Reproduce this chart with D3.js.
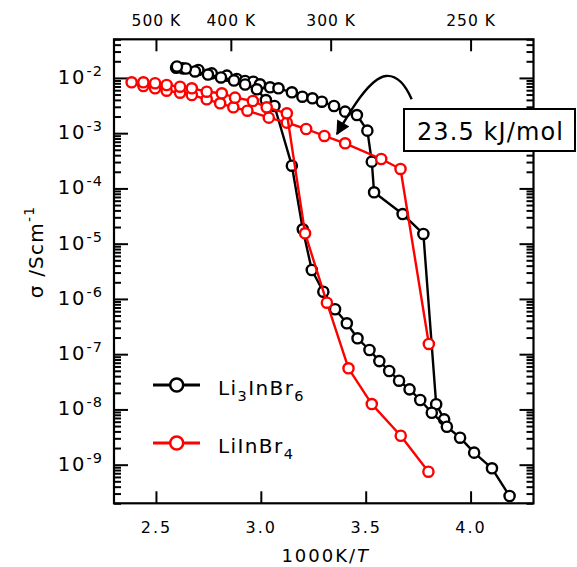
<!DOCTYPE html>
<html>
<head>
<meta charset="utf-8">
<script src="https://cdn.jsdelivr.net/npm/d3@7"></script>
<style>
  body { margin: 0; background: #fff; }
  svg { display: block; }
  text { font-family: "DejaVu Sans", Verdana, sans-serif; fill: #000; }
</style>
</head>
<body>
<svg id="chart" width="577" height="567"></svg>
<script>
// Conductivity vs inverse temperature (1000K/T) for two bromide conductors.
// Li3InBr6, cooling run
const li3CoolX = [2.596, 2.628, 2.702, 2.766, 2.838, 2.885, 2.925, 2.964, 2.996, 3.044, 3.084, 3.148, 3.198,
  3.246, 3.291, 3.349, 3.402, 3.458, 3.508, 3.529, 3.540, 3.676, 3.775, 3.836, 3.874];
const li3CoolSigma = [1.53e-2, 1.49e-2, 1.39e-2, 1.21e-2, 1.10e-2, 9.55e-3, 8.8e-3, 8.55e-3, 7.66e-3, 6.76e-3,
  6.49e-3, 5.49e-3, 4.57e-3, 4.28e-3, 3.71e-3, 3.10e-3, 2.45e-3, 2.13e-3, 1.11e-3, 3.05e-4, 8.5e-5, 3.44e-5,
  1.50e-5, 1.24e-8, 6.6e-9];
// Li3InBr6, heating run
const li3HeatX = [4.186, 4.102, 4.017, 3.950, 3.887, 3.815, 3.760, 3.709, 3.659, 3.612, 3.565, 3.518, 3.461,
  3.410, 3.354, 3.298, 3.243, 3.200, 3.148, 3.065, 3.024, 2.981, 2.925, 2.872, 2.810, 2.748, 2.686, 2.643, 2.600];
const li3HeatSigma = [2.71e-10, 8.6e-10, 1.65e-9, 3.08e-9, 4.86e-9, 8.7e-9, 1.48e-8, 2.31e-8, 3.31e-8, 4.96e-8,
  7.5e-8, 1.19e-7, 1.94e-7, 3.62e-7, 6.5e-7, 1.35e-6, 3.34e-6, 1.82e-5, 2.58e-4, 3.10e-3, 3.98e-3, 6.22e-3,
  7.6e-3, 8.98e-3, 1.02e-2, 1.15e-2, 1.31e-2, 1.48e-2, 1.61e-2];
// LiInBr4, cooling run
const liCoolX = [2.384, 2.440, 2.496, 2.551, 2.615, 2.671, 2.742, 2.806, 2.869, 2.936, 3.038, 3.124, 3.216,
  3.303, 3.402, 3.574, 3.666, 3.801];
const liCoolSigma = [8.33e-3, 7.14e-3, 6.49e-3, 5.87e-3, 5.40e-3, 4.91e-3, 4.10e-3, 3.47e-3, 2.94e-3, 2.55e-3,
  1.91e-3, 1.55e-3, 1.19e-3, 8.9e-4, 6.56e-4, 3.41e-4, 2.25e-4, 1.53e-7];
// LiInBr4, heating run
const liHeatX = [3.799, 3.667, 3.529, 3.418, 3.315, 3.211, 3.124, 3.028, 2.962, 2.877, 2.814, 2.742, 2.671,
  2.615, 2.551, 2.496, 2.440];
const liHeatSigma = [7.46e-10, 3.34e-9, 1.25e-8, 5.55e-8, 8.55e-7, 1.54e-5, 2.29e-3, 2.94e-3, 3.82e-3, 4.39e-3,
  5.27e-3, 5.63e-3, 6.49e-3, 6.93e-3, 7.45e-3, 8.0e-3, 8.33e-3];

const seriesNames = ["Li3InBr6", "LiInBr4"];
const seriesColors = ["#000000", "#ff0000"];

// Axis ticks
const xTicks = [2.5, 3.0, 3.5, 4.0];
const topTickValues = [2.5, 2.857, 3.333, 4.0];
const topTickLabels = ["500 K", "400 K", "300 K", "250 K"];
const yMajorExponents = [-9, -8, -7, -6, -5, -4, -3, -2];
const activationLabel = "23.5 kJ/mol";

const plot = { left: 114, right: 533.5, top: 39.3, bottom: 503.3 };

const svg = d3.select("#chart");

const xs = d3.scaleLinear().domain([2.3, 4.3]).range([plot.left, plot.right]);
const ys = d3.scaleLog().domain([2e-10, 5e-2]).range([plot.bottom, plot.top]);

// Log ticks: decades and the 2..9 multiples inside the domain
const yMajor = yMajorExponents.map(e => Math.pow(10, e));
const yMinor = [];
for (let e = -10; e <= -2; e++) {
  for (let m = 2; m <= 9; m++) {
    const v = m * Math.pow(10, e);
    if (v >= 2e-10 && v <= 5e-2) yMinor.push(v);
  }
}

const axes = svg.append("g");

function styleAxis(g) {
  g.select(".domain").remove();
  g.selectAll(".tick line").attr("stroke", "#000").attr("stroke-width", 2);
}

// bottom
axes.append("g")
  .attr("transform", `translate(0,${plot.bottom})`)
  .call(d3.axisBottom(xs).tickValues(xTicks).tickSizeInner(-12).tickSizeOuter(0)
    .tickPadding(18).tickFormat(d3.format(".1f")))
  .call(styleAxis)
  .call(g => g.selectAll("text").attr("font-size", 16).style("letter-spacing", "2px")
    .attr("font-family", "DejaVu Sans").attr("fill", "#000"));

// top
axes.append("g")
  .attr("transform", `translate(0,${plot.top})`)
  .call(d3.axisTop(xs).tickValues(topTickValues).tickSizeInner(-12).tickSizeOuter(0)
    .tickPadding(13).tickFormat((d, i) => topTickLabels[i]))
  .call(styleAxis)
  .call(g => g.selectAll("text").attr("font-size", 15.5).style("letter-spacing", "1px")
    .attr("font-family", "DejaVu Sans").attr("fill", "#000"));

// left & right, major + minor
[[yMajor, 14], [yMinor, 7]].forEach(([vals, len]) => {
  axes.append("g")
    .attr("transform", `translate(${plot.left},0)`)
    .call(d3.axisLeft(ys).tickValues(vals).tickSizeInner(-len).tickSizeOuter(0).tickFormat(""))
    .call(styleAxis);
  axes.append("g")
    .attr("transform", `translate(${plot.right},0)`)
    .call(d3.axisRight(ys).tickValues(vals).tickSizeInner(-len).tickSizeOuter(0).tickFormat(""))
    .call(styleAxis);
});

// y tick labels as 10^n
const yLab = axes.append("g");
yMajorExponents.forEach(e => {
  const t = yLab.append("text")
    .attr("x", 103)
    .attr("y", ys(Math.pow(10, e)) + 6)
    .attr("text-anchor", "end")
    .attr("font-size", 19.5)
    .style("letter-spacing", "2px");
  t.append("tspan").text("10");
  t.append("tspan").attr("dy", -8).attr("font-size", 14.5).style("letter-spacing", "1px").text(String(e));
});

// frame
svg.append("rect")
  .attr("x", plot.left).attr("y", plot.top)
  .attr("width", plot.right - plot.left).attr("height", plot.bottom - plot.top)
  .attr("fill", "none").attr("stroke", "#000").attr("stroke-width", 2.2);

// axis titles
const xt = svg.append("text")
  .attr("x", (plot.left + plot.right) / 2 + 2)
  .attr("y", 561.5)
  .attr("text-anchor", "middle")
  .attr("font-size", 18)
  .style("letter-spacing", "2px");
xt.append("tspan").text("1000K/");
xt.append("tspan").attr("font-style", "italic").text("T");

const yt = svg.append("text")
  .attr("transform", "translate(43,252) rotate(-90)")
  .attr("text-anchor", "middle")
  .attr("font-size", 20)
  .style("letter-spacing", "1.2px");
yt.append("tspan").text("σ /Scm");
yt.append("tspan").attr("dy", -9).attr("font-size", 14).text("-1");

// data series
const line = d3.line().x(d => xs(d[0])).y(d => ys(d[1]));
const runs = [
  { xs: li3CoolX, ys: li3CoolSigma, color: seriesColors[0] },
  { xs: li3HeatX, ys: li3HeatSigma, color: seriesColors[0] },
  { xs: liCoolX, ys: liCoolSigma, color: seriesColors[1] },
  { xs: liHeatX, ys: liHeatSigma, color: seriesColors[1] }
];
runs.forEach(r => {
  const pts = r.xs.map((x, i) => [x, r.ys[i]]);
  const g = svg.append("g");
  g.append("path").datum(pts).attr("d", line)
    .attr("fill", "none").attr("stroke", r.color).attr("stroke-width", 2.4)
    .attr("stroke-linejoin", "round");
  g.selectAll("circle").data(pts).join("circle")
    .attr("cx", d => xs(d[0])).attr("cy", d => ys(d[1])).attr("r", 5.1)
    .attr("fill", "#fff").attr("stroke", r.color).attr("stroke-width", 2.4);
});

// activation-energy annotation
const defs = svg.append("defs");
defs.append("marker")
  .attr("id", "arrowHead").attr("viewBox", "0 0 10 10")
  .attr("refX", 9).attr("refY", 5)
  .attr("markerWidth", 17).attr("markerHeight", 14)
  .attr("markerUnits", "userSpaceOnUse").attr("orient", "auto")
  .append("path").attr("d", "M0,0 L10,5 L0,10 z").attr("fill", "#000");

svg.append("path")
  .attr("d", "M411.7,99.3 C405,84 396,75 386,76 C370,78 352,108 337,134")
  .attr("fill", "none").attr("stroke", "#000").attr("stroke-width", 2.4)
  .attr("marker-end", "url(#arrowHead)");

svg.append("rect")
  .attr("x", 404).attr("y", 109).attr("width", 171).attr("height", 42)
  .attr("fill", "#fff").attr("stroke", "#000").attr("stroke-width", 2);
svg.append("text")
  .attr("x", 417).attr("y", 140)
  .attr("font-size", 24)
  .style("letter-spacing", "1.1px")
  .text(activationLabel);

// legend
const legend = svg.append("g");
const legendRows = [
  { y: 385, color: seriesColors[0], parts: [["Li", 0], ["3", 1], ["InBr", 0], ["6", 1]] },
  { y: 443, color: seriesColors[1], parts: [["LiInBr", 0], ["4", 1]] }
];
legendRows.forEach(row => {
  legend.append("line").attr("x1", 153).attr("x2", 200).attr("y1", row.y).attr("y2", row.y)
    .attr("stroke", row.color).attr("stroke-width", 3);
  legend.append("circle").attr("cx", 176.7).attr("cy", row.y).attr("r", 6.5)
    .attr("fill", "#fff").attr("stroke", row.color).attr("stroke-width", 2.5);
  const t = legend.append("text").attr("x", 218).attr("y", row.y + 10)
    .attr("font-size", 20).style("letter-spacing", "1.4px");
  let shifted = false;
  row.parts.forEach(([s, sub]) => {
    const ts = t.append("tspan").text(s);
    if (sub && !shifted) { ts.attr("dy", 6).attr("font-size", 14.5); shifted = true; }
    else if (!sub && shifted) { ts.attr("dy", -6); shifted = false; }
  });
});
</script>
</body>
</html>
